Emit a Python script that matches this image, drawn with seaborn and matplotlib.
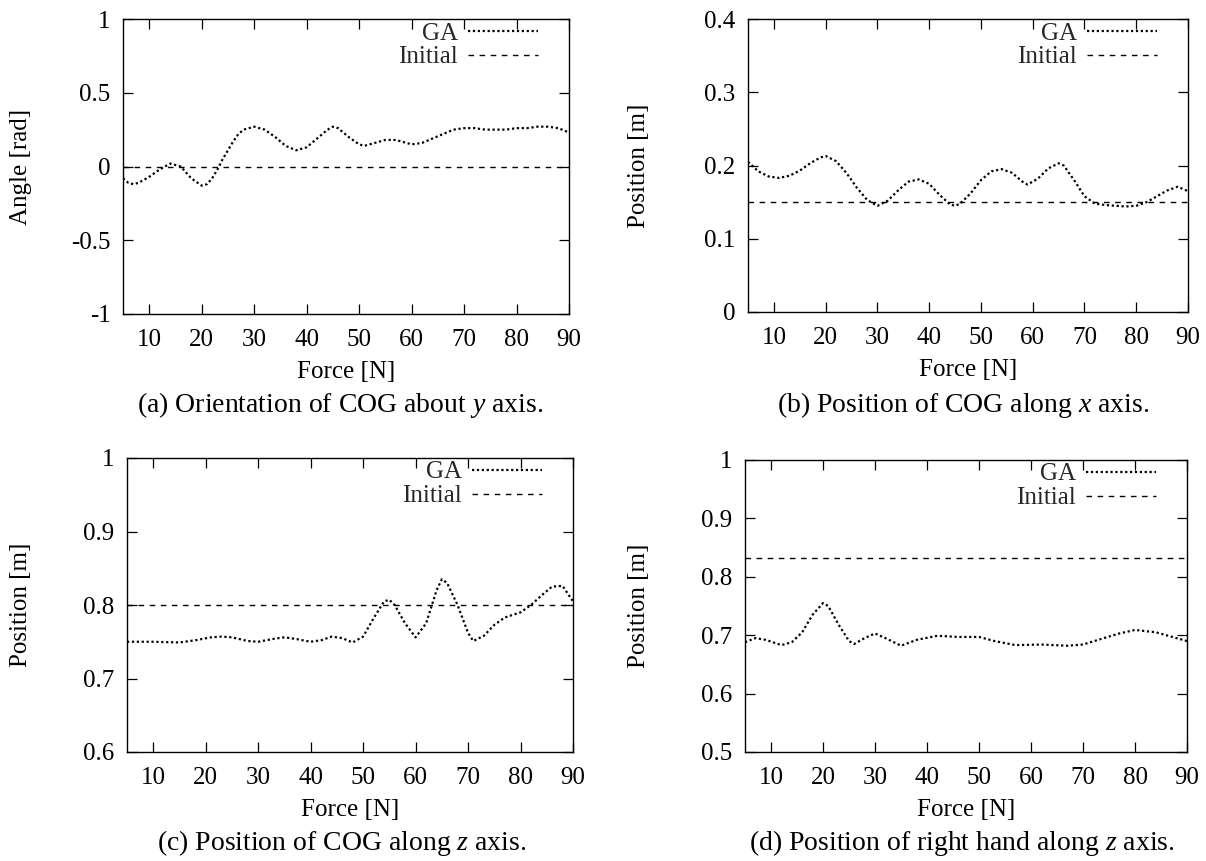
import matplotlib
matplotlib.use("Agg")
import matplotlib.pyplot as plt
import seaborn as sns
from matplotlib.ticker import FuncFormatter

sns.set_theme(style="ticks")
plt.rcParams['font.family'] = ['Liberation Serif', 'DejaVu Serif']
plt.rcParams['mathtext.fontset'] = 'custom'
plt.rcParams['mathtext.rm'] = 'Liberation Serif'
plt.rcParams['mathtext.it'] = 'Liberation Serif:italic'
plt.rcParams['axes.unicode_minus'] = False

FS = 18      # ticks, axis labels, legend
CAP_FS = 20  # sub-figure captions

# (a) orientation of COG about y axis
force_a = [5, 6, 7, 8, 10, 12, 14, 16, 18, 20, 21, 22, 23, 24, 25, 26, 27, 28, 30, 32,
           34, 36, 38, 40, 42, 44, 45, 46, 48, 50, 51, 53, 55, 57, 59, 60, 62, 64, 66, 68,
           70, 72, 74, 76, 78, 80, 82, 84, 86, 88, 90]
ga_a = [-0.08, -0.11, -0.12, -0.11, -0.07, -0.02, 0.02, 0.0, -0.08, -0.13, -0.12, -0.08, -0.02, 0.05, 0.11,
        0.17, 0.22, 0.25, 0.27, 0.25, 0.2, 0.14, 0.11, 0.13, 0.19, 0.25, 0.27, 0.26, 0.2, 0.15,
        0.14, 0.16, 0.18, 0.18, 0.16, 0.15, 0.16, 0.19, 0.22, 0.25, 0.26, 0.26, 0.25, 0.25, 0.25,
        0.26, 0.26, 0.27, 0.27, 0.26, 0.23]
init_a = 0.0

# (b) position of COG along x axis
force_b = [5, 7, 9, 11, 13, 15, 17, 19, 20, 22, 24, 26, 28, 30, 32, 34, 36, 38, 40, 42,
           44, 45, 46, 48, 50, 52, 54, 56, 58, 59, 61, 63, 65, 66, 68, 70, 72, 74, 76, 78,
           80, 82, 84, 86, 88, 90]
ga_b = [0.205, 0.192, 0.185, 0.183, 0.186, 0.193, 0.203, 0.211, 0.213, 0.206, 0.19, 0.17, 0.153, 0.145, 0.152,
        0.166, 0.178, 0.181, 0.175, 0.16, 0.147, 0.145, 0.148, 0.162, 0.18, 0.192, 0.195, 0.19, 0.178, 0.174,
        0.182, 0.196, 0.203, 0.2, 0.18, 0.158, 0.148, 0.146, 0.145, 0.144, 0.145, 0.15, 0.158, 0.166, 0.171,
        0.165]
init_b = 0.15

# (c) position of COG along z axis
force_c = [5, 10, 15, 18, 21, 23, 25, 28, 30, 33, 35, 37, 40, 42, 44, 46, 48, 50, 52, 54,
           55, 56, 58, 60, 62, 64, 65, 66, 68, 70, 71, 73, 75, 77, 80, 82, 84, 86, 88, 90]
ga_c = [0.75, 0.75, 0.749, 0.752, 0.756, 0.757, 0.756, 0.751, 0.75, 0.754, 0.756, 0.754, 0.75, 0.752, 0.757,
        0.755, 0.749, 0.757, 0.782, 0.805, 0.807, 0.8, 0.775, 0.756, 0.775, 0.82, 0.835, 0.83, 0.8, 0.762,
        0.751, 0.758, 0.773, 0.783, 0.79, 0.8, 0.813, 0.825, 0.826, 0.805]
init_c = 0.8

# (d) position of right hand along z axis
force_d = [5, 7, 9, 12, 14, 16, 18, 20, 21, 23, 25, 26, 28, 30, 32, 35, 38, 42, 46, 50,
           53, 57, 62, 67, 70, 74, 77, 80, 84, 88, 90]
ga_d = [0.688, 0.695, 0.692, 0.683, 0.688, 0.705, 0.735, 0.755, 0.75, 0.718, 0.69, 0.685, 0.695, 0.703, 0.695,
        0.682, 0.692, 0.699, 0.697, 0.697, 0.69, 0.683, 0.684, 0.682, 0.684, 0.695, 0.703, 0.709, 0.705, 0.695,
        0.69]
init_d = 0.833

x_ticks = [10, 20, 30, 40, 50, 60, 70, 80, 90]

# box = (left, right, top, bottom) in pixels
panels = [
    dict(force=force_a, ga=ga_a, init=init_a, ylim=(-1, 1), yticks=[-1, -0.5, 0, 0.5, 1],
         ylabel='Angle [rad]', caption='(a) Orientation of COG about $y$ axis.',
         box=(123, 569, 19, 314), ylab_x=32, cap_x=340, cap_y=405),
    dict(force=force_b, ga=ga_b, init=init_b, ylim=(0, 0.4), yticks=[0, 0.1, 0.2, 0.3, 0.4],
         ylabel='Position [m]', caption='(b) Position of COG along $x$ axis.',
         box=(748, 1188, 19, 312), ylab_x=650, cap_x=963, cap_y=405),
    dict(force=force_c, ga=ga_c, init=init_c, ylim=(0.6, 1), yticks=[0.6, 0.7, 0.8, 0.9, 1],
         ylabel='Position [m]', caption='(c) Position of COG along $z$ axis.',
         box=(127, 573, 458, 752), ylab_x=32, cap_x=342, cap_y=843),
    dict(force=force_d, ga=ga_d, init=init_d, ylim=(0.5, 1), yticks=[0.5, 0.6, 0.7, 0.8, 0.9, 1],
         ylabel='Position [m]', caption='(d) Position of right hand along $z$ axis.',
         box=(745, 1187, 460, 752), ylab_x=650, cap_x=962, cap_y=843),
]

W, H = 1206, 861
fig = plt.figure(figsize=(W / 100, H / 100), dpi=100)
fig.patch.set_facecolor('white')

for p in panels:
    l, r, t, b = p['box']
    ax = fig.add_axes([l / W, 1 - b / H, (r - l) / W, (b - t) / H])
    ax.set_facecolor('white')
    sns.lineplot(x=p['force'], y=p['ga'], ax=ax, color='black', lw=1.6,
                 linestyle=(0, (1, 1.2)), label='GA')
    ax.axhline(p['init'], color='black', lw=1.0, linestyle=(0, (4, 4)), label='Initial')
    ax.set_xlim(5, 90)
    ax.set_ylim(*p['ylim'])
    ax.set_xticks(x_ticks)
    ax.set_yticks(p['yticks'])
    ax.yaxis.set_major_formatter(FuncFormatter(lambda v, pos: f"{round(v, 2):g}"))
    ax.tick_params(direction='in', length=7, width=0.9, top=True, right=True,
                   labelsize=FS, colors='black')
    ax.tick_params(axis='x', pad=11)
    ax.tick_params(axis='y', pad=9)
    for s in ax.spines.values():
        s.set_visible(True)
        s.set_color('black')
        s.set_linewidth(1.0)
    ax.set_xlabel('Force [N]', fontsize=FS, color='black', labelpad=7)
    ax.set_ylabel(p['ylabel'], fontsize=FS, color='black')
    ax.yaxis.set_label_coords((p['ylab_x'] - l) / (r - l), 0.5)
    ax.legend(loc='upper right', frameon=False, markerfirst=False, fontsize=FS,
              handlelength=2.8, handletextpad=0.4, labelspacing=0.05,
              borderpad=0, borderaxespad=0,
              bbox_to_anchor=(1 - 31 / (r - l), 1 - 3 / (b - t)))
    fig.text(p['cap_x'] / W, 1 - p['cap_y'] / H, p['caption'], fontsize=CAP_FS,
             ha='center', va='center', color='black')

fig.savefig('out.png', dpi=100, facecolor='white')
